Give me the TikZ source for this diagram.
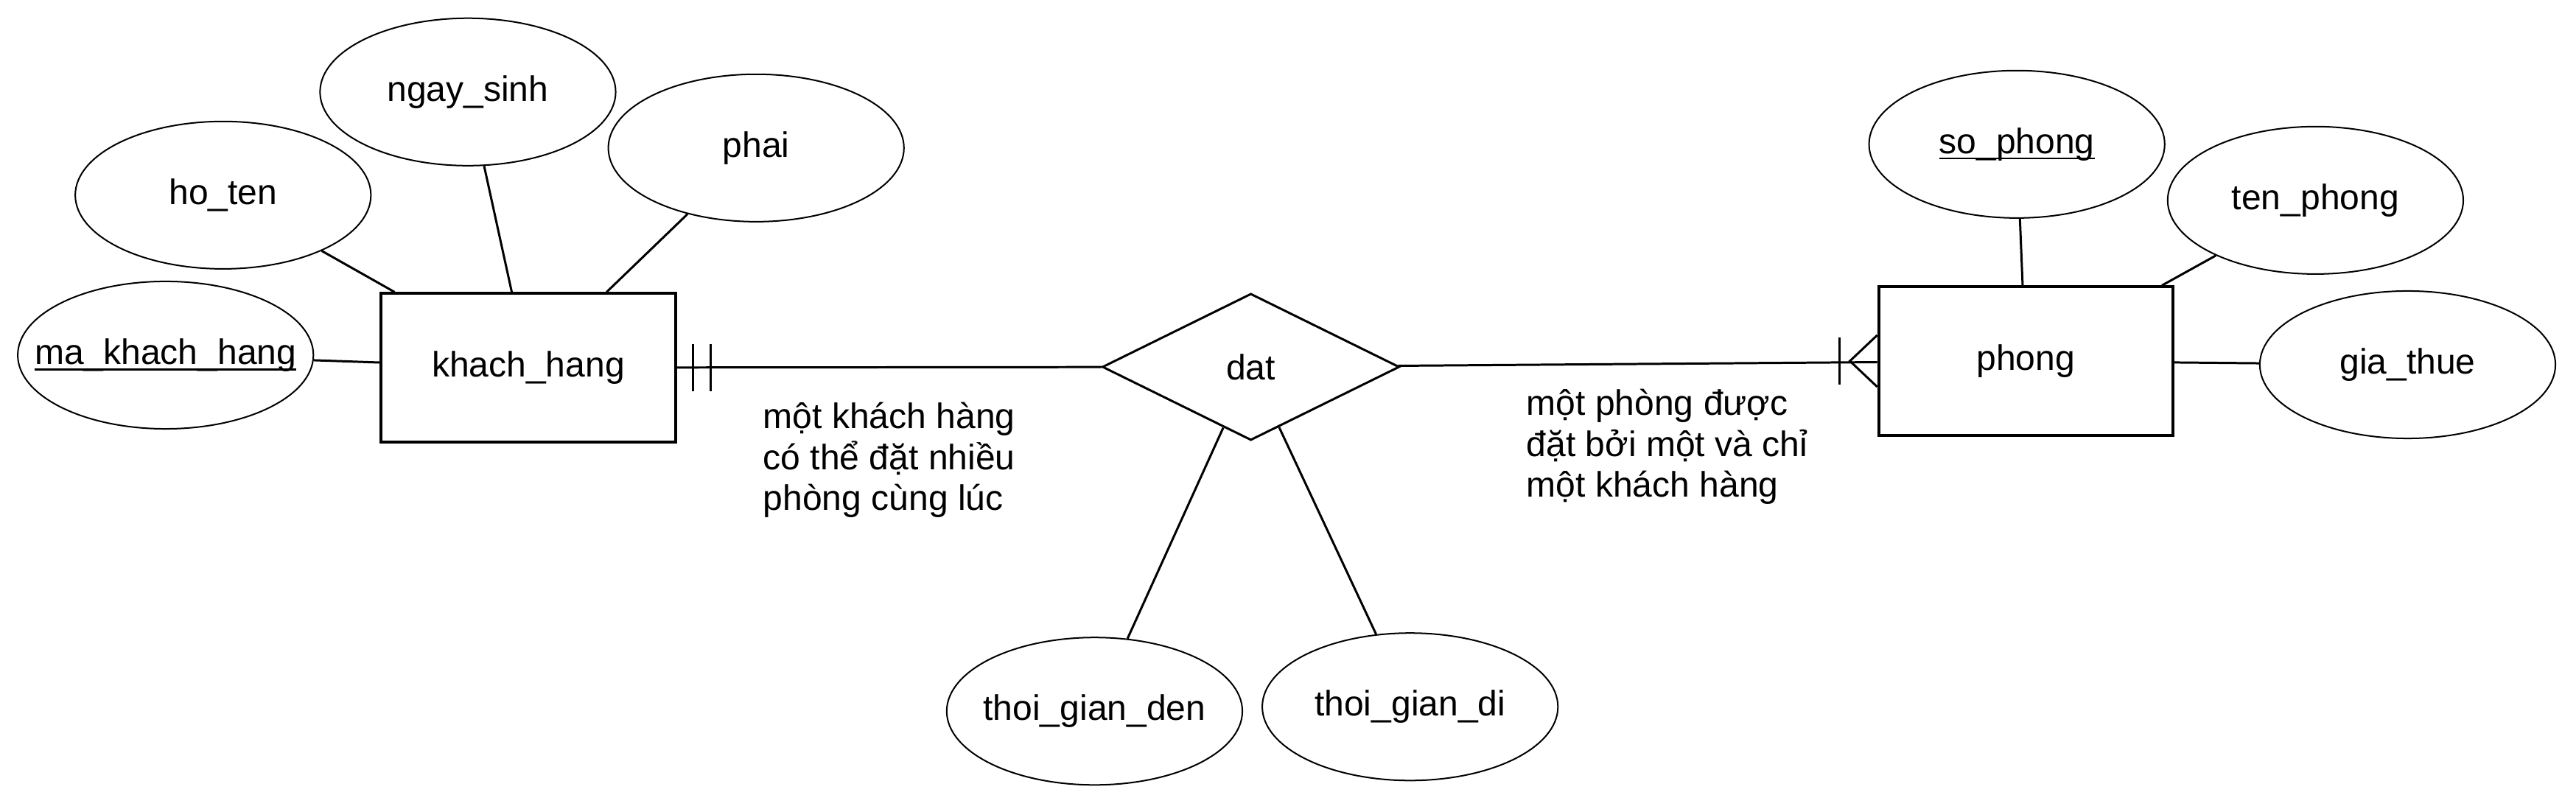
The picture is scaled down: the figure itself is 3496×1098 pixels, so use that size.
\documentclass[tikz,border=0pt]{standalone}
\usepackage{fontspec}
\setmainfont{Liberation Sans}
\usetikzlibrary{positioning,shapes.geometric}

\newcommand{\pkey}[1]{\setbox0\hbox{#1}\rlap{\rule[-0.17em]{\wd0}{0.05em}}\box0}

\begin{document}
\begin{tikzpicture}[x=0.01cm, y=-0.01cm, on grid,
                    font=\fontsize{13.66pt}{15.9pt}\selectfont,
                    entity/.style={rectangle,draw,line width=1.14pt,minimum width=3.99cm,minimum height=2.01cm,inner sep=0pt},
                    attr/.style={ellipse,draw,line width=0.57pt,minimum width=4.01cm,minimum height=2cm,inner ysep=0pt,inner xsep=-1cm},
                    rel/.style={diamond,draw,line width=0.85pt,minimum width=4.03cm,minimum height=1.99cm,inner sep=0pt},
                    link/.style={line width=0.85pt},
                    note/.style={align=left,inner sep=0pt,anchor=base west}]

  \useasboundingbox (0,0) rectangle (3496,1098);

  % entities and relationship
  \node[entity] (kh) at (717,499) {khach\_hang};
  \node[rel] (dat) [above right=0.01cm and 9.8cm of kh] {dat};
  \node[entity] (ph) [above right=0.08cm and 10.51cm of dat] {phong};

  % attributes of khach_hang
  \node[attr] (ma) [above left=0.17cm and 4.92cm of kh] {\pkey{ma\_khach\_hang}};
  \node[attr] (hoten) [above left=2.34cm and 4.14cm of kh] {ho\_ten};
  \node[attr] (ngaysinh) [above left=3.74cm and 0.82cm of kh] {ngay\_sinh};
  \node[attr] (phai) [above right=2.98cm and 3.09cm of kh] {phai};

  % attributes of phong
  \node[attr] (sophong) [above left=2.94cm and 0.12cm of ph] {\pkey{so\_phong}};
  \node[attr] (tenphong) [above right=2.18cm and 3.93cm of ph] {ten\_phong};
  \node[attr] (giathue) [below right=0.05cm and 5.18cm of ph] {gia\_thue};

  % attributes of dat
  \node[attr] (tgden) [below left=4.67cm and 2.12cm of dat] {thoi\_gian\_den};
  \node[attr] (tgdi) [below right=4.61cm and 2.16cm of dat] {thoi\_gian\_di};

  \draw[link] (ma) -- (kh);
  \draw[link] (hoten) -- (kh);
  \draw[link] (ngaysinh) -- (kh);
  \draw[link] (phai) -- (kh);
  \draw[link] (sophong) -- (ph);
  \draw[link] (tenphong) -- (ph);
  \draw[link] (giathue) -- (ph);
  \draw[link] (dat) -- (tgden);
  \draw[link] (dat) -- (tgdi);

  % one and only one
  \draw[link] (kh) -- (dat);
  \draw[link] ([shift={(22,-32)}]kh.east) -- ++(0,64);
  \draw[link] ([shift={(46,-32)}]kh.east) -- ++(0,64);

  % one or many
  \draw[link] (dat) -- (ph);
  \draw[link] ([shift={(0,-35)}]ph.west) -- ++(-37,35) -- ++(37,35);
  \draw[link] ([shift={(-51,-32)}]ph.west) -- ++(0,64);

  \node[note] (n1) at (1035,693) {một khách hàng\\có thể đặt nhiều\\phòng cùng lúc};
  \node[note] (n2) at (2071,675) {một phòng được\\đặt bởi một và chỉ\\một khách hàng};

\end{tikzpicture}
\end{document}
